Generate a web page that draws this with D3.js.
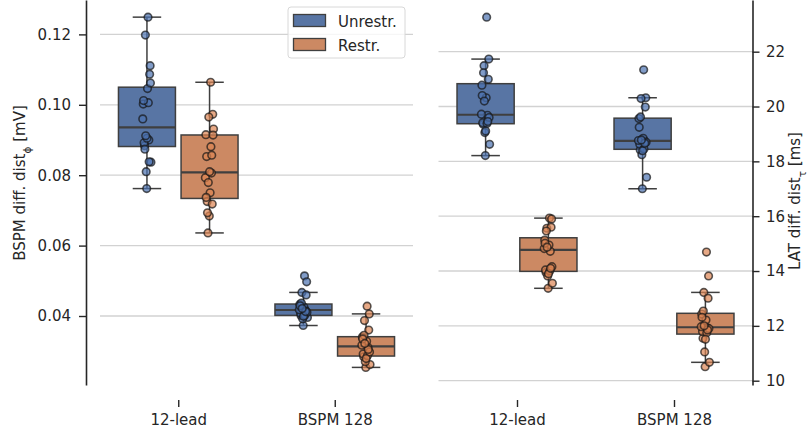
<!DOCTYPE html>
<html>
<head>
<meta charset="utf-8">
<script src="https://d3js.org/d3.v7.min.js"></script>
<style>
body { margin: 0; background: #fff; }
svg { display: block; font-family: "DejaVu Sans", sans-serif; }
.axis text { fill: #262626; font-size: 15px; font-family: "DejaVu Sans", sans-serif; }
.axis line { stroke: #262626; stroke-width: 1.4; }
.axis path { stroke: #262626; stroke-width: 1.6; }
</style>
</head>
<body>
<svg id="chart" width="807" height="434"></svg>
<script>

var groups = ["12-lead", "BSPM 128"];
var hues = ["Unrestr.", "Restr."];

// BSPM difference distance [mV]
var bspmUnrestr12 = [0.1249, 0.0884, 0.1111, 0.0762, 0.1002, 0.0900, 0.1198, 0.0837, 0.1046, 0.0892,
                     0.1087, 0.0810, 0.0960, 0.1006, 0.0874, 0.1062, 0.0905, 0.1012, 0.0838, 0.0912];
var bspmRestr12   = [0.1064, 0.0725, 0.0973, 0.0684, 0.0915, 0.0806, 0.0636, 0.0931, 0.0750, 0.0853,
                     0.0718, 0.0965, 0.0793, 0.0881, 0.0693, 0.0914, 0.0810, 0.0737, 0.0857, 0.0779];
var bspmUnrestr128 = [0.0514, 0.0401, 0.0497, 0.0373, 0.0433, 0.0416, 0.0467, 0.0396, 0.0425, 0.0408,
                      0.0460, 0.0392, 0.0418, 0.0402, 0.0437, 0.0411, 0.0399, 0.0429, 0.0413, 0.0421];
var bspmRestr128   = [0.0428, 0.0284, 0.0406, 0.0254, 0.0340, 0.0311, 0.0387, 0.0262, 0.0328, 0.0292,
                      0.0360, 0.0270, 0.0317, 0.0287, 0.0345, 0.0298, 0.0279, 0.0335, 0.0305, 0.0322];

// LAT difference distance [ms]
var latUnrestr12 = [23.26, 19.35, 21.73, 18.21, 20.78, 19.68, 21.49, 18.62, 20.32, 19.41,
                    20.99, 19.05, 19.72, 19.38, 21.23, 19.60, 19.11, 20.40, 19.45, 20.20];
var latRestr12   = [15.93, 13.95, 15.90, 13.37, 15.13, 14.72, 15.56, 13.55, 14.95, 14.04,
                    15.60, 13.82, 14.82, 14.00, 15.46, 14.16, 13.90, 15.01, 14.10, 14.87];
var latUnrestr128 = [21.34, 18.41, 20.32, 17.00, 19.56, 18.74, 20.29, 17.42, 18.84, 18.62,
                     19.98, 18.24, 18.76, 18.45, 19.62, 18.70, 18.39, 19.24, 18.66, 18.78];
var latRestr128   = [14.69, 11.55, 13.82, 10.51, 12.43, 11.93, 13.22, 10.67, 12.21, 11.79,
                     13.01, 11.05, 11.97, 11.75, 12.54, 11.90, 11.51, 12.31, 11.85, 12.00];

var bspmTicks = [0.04, 0.06, 0.08, 0.10, 0.12];
var latTicks = [10, 12, 14, 16, 18, 20, 22];

var boxColors = ["#5875a4", "#cc8963"];
var pointColors = ["#4c72b0", "#dd8452"];

var svg = d3.select("#chart");
var axesTop = 0, axesBottom = 385, spineX = 400;

var panels = [
  { x0: 100, x1: 413, spine: 86, side: "left",
    domain: [0.0204, 0.12977], ticks: bspmTicks, fmt: d3.format(".2f"),
    data: [[bspmUnrestr12, bspmRestr12], [bspmUnrestr128, bspmRestr128]] },
  { x0: 438.5, x1: 752.5, spine: 752.5, side: "right",
    domain: [9.843, 23.885], ticks: latTicks, fmt: d3.format("d"),
    data: [[latUnrestr12, latRestr12], [latUnrestr128, latRestr128]] }
];

function boxStats(vals) {
  var s = vals.slice().sort(d3.ascending);
  var q1 = d3.quantile(s, 0.25), med = d3.quantile(s, 0.5), q3 = d3.quantile(s, 0.75);
  var iqr = q3 - q1;
  var lo = d3.min(s.filter(function(v) { return v >= q1 - 1.5 * iqr; }));
  var hi = d3.max(s.filter(function(v) { return v <= q3 + 1.5 * iqr; }));
  return { q1: q1, med: med, q3: q3, lo: lo, hi: hi };
}

// fixed spread for the strip points (golden ratio sequence)
function jitter(i) {
  return (((i + 1) * 0.6180339887) % 1 - 0.5) * 9;
}

panels.forEach(function(p) {
  var y = d3.scaleLinear().domain(p.domain).range([axesBottom, axesTop]);
  var x = d3.scalePoint().domain(groups).range([p.x0, p.x1]).padding(0.5);
  var hue = d3.scaleBand().domain(hues).range([-0.4 * x.step(), 0.4 * x.step()]);
  var bw = hue.bandwidth() * 0.91;

  var g = svg.append("g");

  // grid
  g.selectAll(".grid").data(p.ticks).enter()
    .append("line")
    .attr("x1", p.x0).attr("x2", p.x1)
    .attr("y1", function(d) { return y(d); })
    .attr("y2", function(d) { return y(d); })
    .attr("stroke", "#d2d2d2")
    .attr("stroke-width", 1.3);

  // boxes
  groups.forEach(function(grp, gi) {
    hues.forEach(function(h, hi) {
      var vals = p.data[gi][hi];
      var st = boxStats(vals);
      var cx = x(grp) + hue(h) + hue.bandwidth() / 2;
      var bg = g.append("g");
      bg.append("line").attr("x1", cx).attr("x2", cx)
        .attr("y1", y(st.q3)).attr("y2", y(st.hi))
        .attr("stroke", "#3f3f3f").attr("stroke-width", 1.5);
      bg.append("line").attr("x1", cx).attr("x2", cx)
        .attr("y1", y(st.q1)).attr("y2", y(st.lo))
        .attr("stroke", "#3f3f3f").attr("stroke-width", 1.5);
      [st.hi, st.lo].forEach(function(v) {
        bg.append("line").attr("x1", cx - bw / 4).attr("x2", cx + bw / 4)
          .attr("y1", y(v)).attr("y2", y(v))
          .attr("stroke", "#3f3f3f").attr("stroke-width", 1.5);
      });
      bg.append("rect")
        .attr("x", cx - bw / 2).attr("width", bw)
        .attr("y", y(st.q3)).attr("height", y(st.q1) - y(st.q3))
        .attr("fill", boxColors[hi])
        .attr("stroke", "#3f3f3f").attr("stroke-width", 1.5);
      bg.append("line").attr("x1", cx - bw / 2).attr("x2", cx + bw / 2)
        .attr("y1", y(st.med)).attr("y2", y(st.med))
        .attr("stroke", "#3f3f3f").attr("stroke-width", 2.2);

      // strip points
      g.append("g").selectAll("circle").data(vals).enter()
        .append("circle")
        .attr("cx", function(d, i) { return cx + jitter(i); })
        .attr("cy", function(d) { return y(d); })
        .attr("r", 3.8)
        .attr("fill", pointColors[hi])
        .attr("fill-opacity", 0.7)
        .attr("stroke", "#151515")
        .attr("stroke-opacity", 0.7)
        .attr("stroke-width", 1.6);
    });
  });

  // y axis
  var yAxis = (p.side === "left" ? d3.axisLeft(y) : d3.axisRight(y))
    .tickValues(p.ticks).tickFormat(p.fmt)
    .tickSize(7).tickSizeOuter(0)
    .tickPadding(p.side === "left" ? 8 : 6.5);
  svg.append("g").attr("class", "axis")
    .attr("transform", "translate(" + p.spine + ",0)")
    .call(yAxis);

  // x axis (ticks only)
  var xAxis = d3.axisBottom(x).tickSize(7).tickPadding(7);
  var xg = svg.append("g").attr("class", "axis")
    .attr("transform", "translate(0," + spineX + ")")
    .call(xAxis);
  xg.select(".domain").remove();
});

// axis titles
var lt = svg.append("text")
  .attr("transform", "translate(25,183) rotate(-90)")
  .attr("text-anchor", "middle")
  .attr("fill", "#262626").style("font-size", "15px");
lt.append("tspan").text("BSPM diff. dist");
lt.append("tspan").attr("baseline-shift", "sub").style("font-size", "10.5px").text("\u03d5");
lt.append("tspan").text(" [mV]");

var rt = svg.append("text")
  .attr("transform", "translate(800,201) rotate(-90)")
  .attr("text-anchor", "middle")
  .attr("fill", "#262626").style("font-size", "15px");
rt.append("tspan").text("LAT diff. dist");
rt.append("tspan").attr("baseline-shift", "sub").style("font-size", "10.5px").text("\u03c4");
rt.append("tspan").text(" [ms]");

// legend
var leg = svg.append("g");
leg.append("rect")
  .attr("x", 288).attr("y", 7).attr("width", 117).attr("height", 51).attr("rx", 3)
  .attr("fill", "#fff").attr("fill-opacity", 0.8)
  .attr("stroke", "#d8d8d8").attr("stroke-width", 1);
hues.forEach(function(h, i) {
  leg.append("rect")
    .attr("x", 293.5).attr("y", 14.5 + i * 24).attr("width", 32).attr("height", 12)
    .attr("fill", boxColors[i]).attr("stroke", "#3f3f3f").attr("stroke-width", 1.3);
  leg.append("text")
    .attr("x", 338).attr("y", 26.5 + i * 24)
    .attr("fill", "#262626").style("font-size", "15px")
    .text(h);
});

</script>
</body>
</html>
